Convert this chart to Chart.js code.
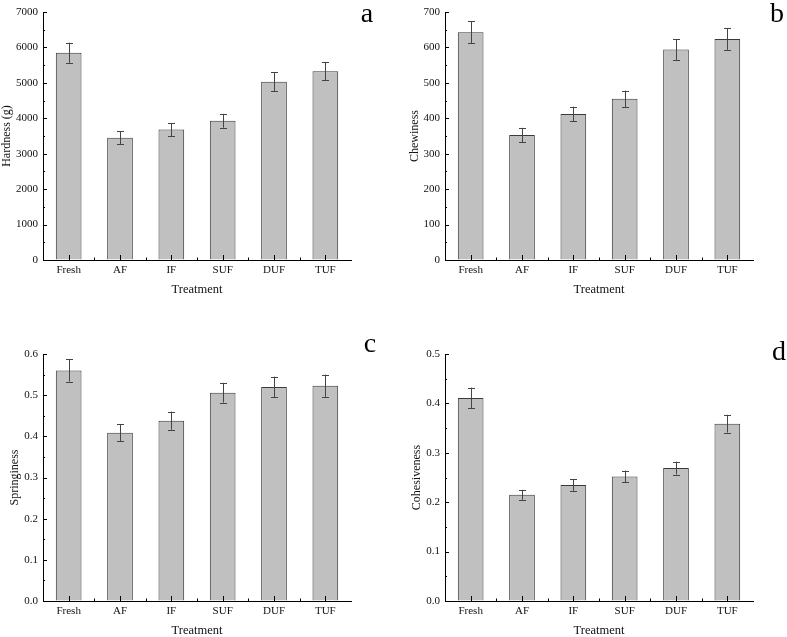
<!DOCTYPE html>
<html><head><meta charset="utf-8">
<script src="https://cdn.jsdelivr.net/npm/chart.js@4.4.0/dist/chart.umd.min.js"></script>
<style>
html,body{margin:0;padding:0;background:#fff;overflow:hidden;width:787px;height:637px;}
canvas{position:absolute;}
</style></head><body>
<canvas id="ca" width="393" height="318" style="left:0px;top:0px;width:393px;height:318px"></canvas>
<canvas id="cb" width="394" height="318" style="left:393px;top:0px;width:394px;height:318px"></canvas>
<canvas id="cc" width="393" height="319" style="left:0px;top:318px;width:393px;height:319px"></canvas>
<canvas id="cd" width="394" height="319" style="left:393px;top:318px;width:394px;height:319px"></canvas>
<script>
const categories = ['Fresh', 'AF', 'IF', 'SUF', 'DUF', 'TUF'];

const hardness = [5850, 3450, 3680, 3930, 5030, 5330];
const hardnessErr = [285, 180, 180, 195, 270, 260];
const hardnessTicks = ['0', '1000', '2000', '3000', '4000', '5000', '6000', '7000'];

const chewiness = [643, 353, 412, 455, 594, 624];
const chewinessErr = [31, 20, 21, 23, 29, 31];
const chewinessTicks = ['0', '100', '200', '300', '400', '500', '600', '700'];

const springiness = [0.560, 0.409, 0.438, 0.506, 0.520, 0.523];
const springinessErr = [0.027, 0.021, 0.022, 0.024, 0.025, 0.027];
const springinessTicks = ['0.0', '0.1', '0.2', '0.3', '0.4', '0.5', '0.6'];

const cohesiveness = [0.411, 0.215, 0.235, 0.252, 0.269, 0.359];
const cohesivenessErr = [0.021, 0.010, 0.012, 0.012, 0.013, 0.018];
const cohesivenessTicks = ['0.0', '0.1', '0.2', '0.3', '0.4', '0.5'];

const FONT = '"Liberation Serif", "Times New Roman", serif';

function makePanel(p) {
  const canvas = document.getElementById(p.id);
  const W = canvas.width, H = canvas.height;
  const tickVals = p.ticks.map(Number);

  const deco = {
    id: 'deco' + p.id,
    afterDatasetsDraw(chart) {
      const ctx = chart.ctx;
      const xs = chart.scales.x, ys = chart.scales.y;
      const area = chart.chartArea;
      ctx.save();
      // error bars
      ctx.strokeStyle = '#444';
      ctx.lineWidth = 1;
      p.values.forEach((v, i) => {
        const x = Math.round(xs.getPixelForValue(i)) + 0.5;
        const yt = ys.getPixelForValue(v + p.errors[i]);
        const yb = ys.getPixelForValue(v - p.errors[i]);
        ctx.beginPath();
        ctx.moveTo(x, yt); ctx.lineTo(x, yb);
        ctx.moveTo(x - 3.5, Math.round(yt) + 0.5); ctx.lineTo(x + 3.5, Math.round(yt) + 0.5);
        ctx.moveTo(x - 3.5, Math.round(yb) + 0.5); ctx.lineTo(x + 3.5, Math.round(yb) + 0.5);
        ctx.stroke();
      });
      // inward ticks
      ctx.strokeStyle = '#000';
      ctx.beginPath();
      const step = tickVals[1] - tickVals[0];
      tickVals.forEach((v, i) => {
        const y = Math.round(ys.getPixelForValue(v)) + 0.5;
        ctx.moveTo(area.left, y); ctx.lineTo(area.left + 4, y);
        if (i < tickVals.length - 1) {
          const ym = Math.round(ys.getPixelForValue(v + step / 2)) + 0.5;
          ctx.moveTo(area.left, ym); ctx.lineTo(area.left + 2, ym);
        }
      });
      categories.forEach((c, i) => {
        const x = Math.round(xs.getPixelForValue(i)) + 0.5;
        ctx.moveTo(x, area.bottom); ctx.lineTo(x, area.bottom - 5);
        if (i > 0) {
          const xb = Math.round((xs.getPixelForValue(i) + xs.getPixelForValue(i - 1)) / 2) + 0.5;
          ctx.moveTo(xb, area.bottom); ctx.lineTo(xb, area.bottom - 2.5);
        }
      });
      ctx.stroke();
      // panel letter
      ctx.fillStyle = '#000';
      ctx.font = '28px ' + FONT;
      ctx.textAlign = 'center';
      ctx.textBaseline = 'alphabetic';
      ctx.fillText(p.letter, p.letterX, p.letterY);
      ctx.restore();
    }
  };

  new Chart(canvas, {
    type: 'bar',
    data: {
      labels: categories,
      datasets: [{
        data: p.values,
        backgroundColor: '#c0c0c0',
        borderColor: '#3a3a3a',
        borderWidth: 1,
        barPercentage: 0.5,
        categoryPercentage: 1.0
      }]
    },
    options: {
      responsive: false,
      animation: false,
      devicePixelRatio: 1,
      layout: { padding: { left: 0, top: p.area.T, right: W - p.area.R, bottom: 0 } },
      plugins: { legend: { display: false }, tooltip: { enabled: false } },
      scales: {
        x: {
          grid: { display: true, drawOnChartArea: false, drawTicks: false },
          border: { display: true, color: '#000', width: 1 },
          ticks: { color: '#111', font: { family: FONT, size: 11 }, padding: 4, maxRotation: 0 },
          title: { display: true, text: 'Treatment', color: '#111',
                   font: { family: FONT, size: 12.5, lineHeight: p.xTitleLH },
                   padding: { top: 0, bottom: p.xTitlePad } },
          afterFit: s => { s.height = H - p.area.B; }
        },
        y: {
          min: 0, max: tickVals[tickVals.length - 1],
          grid: { display: true, drawOnChartArea: false, drawTicks: false },
          border: { display: true, color: '#000', width: 1 },
          afterBuildTicks: s => { s.ticks = tickVals.map(v => ({ value: v })); },
          ticks: { color: '#111', font: { family: FONT, size: 11 }, padding: 5,
                   callback: (v, i) => p.ticks[i] },
          title: { display: true, text: p.yTitle, color: '#111',
                   font: { family: FONT, size: 12 },
                   padding: { top: p.yTitlePad, bottom: 0 } },
          afterFit: s => { s.width = p.area.L; }
        }
      }
    },
    plugins: [deco]
  });
}

makePanel({ id: 'ca', values: hardness, errors: hardnessErr, ticks: hardnessTicks,
  yTitle: 'Hardness (g)', letter: 'a', letterX: 367, letterY: 22,
  area: { L: 43, T: 12, R: 351, B: 260 }, yTitlePad: 0, xTitlePad: 20.5, xTitleLH: 1.2 });
makePanel({ id: 'cb', values: chewiness, errors: chewinessErr, ticks: chewinessTicks,
  yTitle: 'Chewiness', letter: 'b', letterX: 384, letterY: 22,
  area: { L: 52, T: 12, R: 360, B: 260 }, yTitlePad: 15, xTitlePad: 20.5, xTitleLH: 1.2 });
makePanel({ id: 'cc', values: springiness, errors: springinessErr, ticks: springinessTicks,
  yTitle: 'Springiness', letter: 'c', letterX: 370, letterY: 34,
  area: { L: 43, T: 36, R: 351, B: 283 }, yTitlePad: 8, xTitlePad: 0, xTitleLH: 1 });
makePanel({ id: 'cd', values: cohesiveness, errors: cohesivenessErr, ticks: cohesivenessTicks,
  yTitle: 'Cohesiveness', letter: 'd', letterX: 386, letterY: 42,
  area: { L: 52, T: 36, R: 360, B: 283 }, yTitlePad: 17, xTitlePad: 0, xTitleLH: 1 });
</script>
</body></html>
